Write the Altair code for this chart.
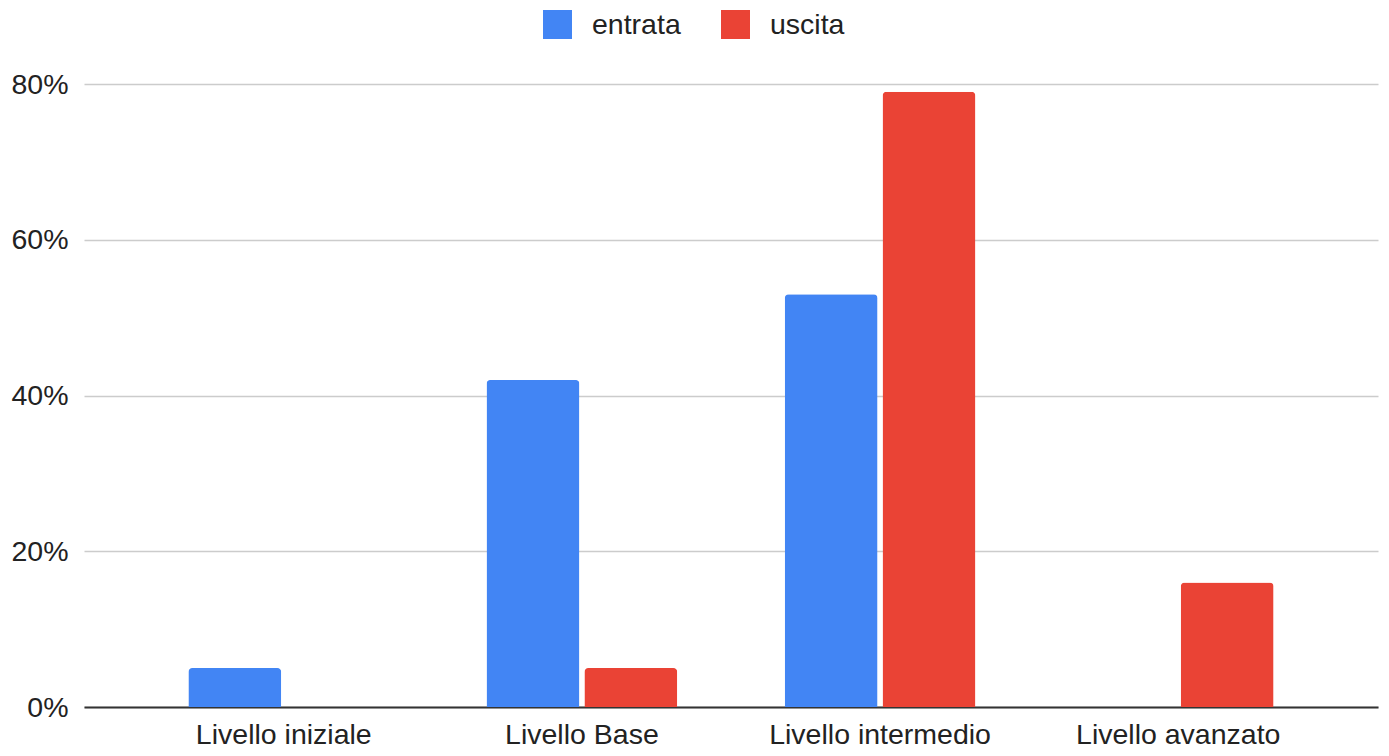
import altair as alt
import pandas as pd

categories = ["Livello iniziale", "Livello Base", "Livello intermedio", "Livello avanzato"]
series_names = ["entrata", "uscita"]
entrata = [0.05, 0.42, 0.53, 0.0]
uscita = [0.0, 0.05, 0.79, 0.16]
colors = ["#4285F4", "#EA4335"]

rows = []
for c, e, u in zip(categories, entrata, uscita):
    rows.append({"cat": c, "serie": "entrata", "val": e})
    rows.append({"cat": c, "serie": "uscita", "val": u})
df = pd.DataFrame(rows)

FONT = "Liberation Sans"
FS = 28.5

chart = alt.Chart(df).mark_bar(
    cornerRadiusTopLeft=4, cornerRadiusTopRight=4
).encode(
    x=alt.X("cat:N", sort=categories, title=None,
            scale=alt.Scale(paddingInner=0.36, paddingOuter=0.35),
            axis=alt.Axis(labelAngle=0, labelFont=FONT, labelFontSize=FS,
                          labelColor="#222222", labelPadding=13, ticks=False,
                          labelLimit=0,
                          domain=True, domainColor="#333333", domainWidth=2,
                          grid=False)),
    xOffset=alt.XOffset("serie:N", sort=series_names,
                        scale=alt.Scale(paddingInner=0.05, paddingOuter=0)),
    y=alt.Y("val:Q", title=None,
            scale=alt.Scale(domain=[0, 0.8], nice=False),
            axis=alt.Axis(values=[0, 0.2, 0.4, 0.6, 0.8], format=".0%",
                          labelFont=FONT, labelFontSize=FS, labelColor="#222222",
                          labelPadding=16, ticks=False, domain=False,
                          gridColor="#cccccc", gridWidth=1.5)),
    color=alt.Color("serie:N", sort=series_names,
                    scale=alt.Scale(domain=series_names, range=colors),
                    legend=alt.Legend(title=None, orient="none", direction="horizontal",
                                      legendX=459, legendY=-74,
                                      symbolType="square", symbolSize=841,
                                      symbolStrokeWidth=0, labelFont=FONT,
                                      labelFontSize=FS, labelColor="#222222",
                                      labelOffset=20, columnPadding=40, padding=0)),
).properties(
    width=1294, height=623,
    autosize=alt.AutoSizeParams(type="none"),
    padding={"left": 76, "top": 76, "right": 3, "bottom": 41},
).configure_view(stroke=None)

chart.save("out.html", embed_options={"renderer": "svg", "actions": False})
